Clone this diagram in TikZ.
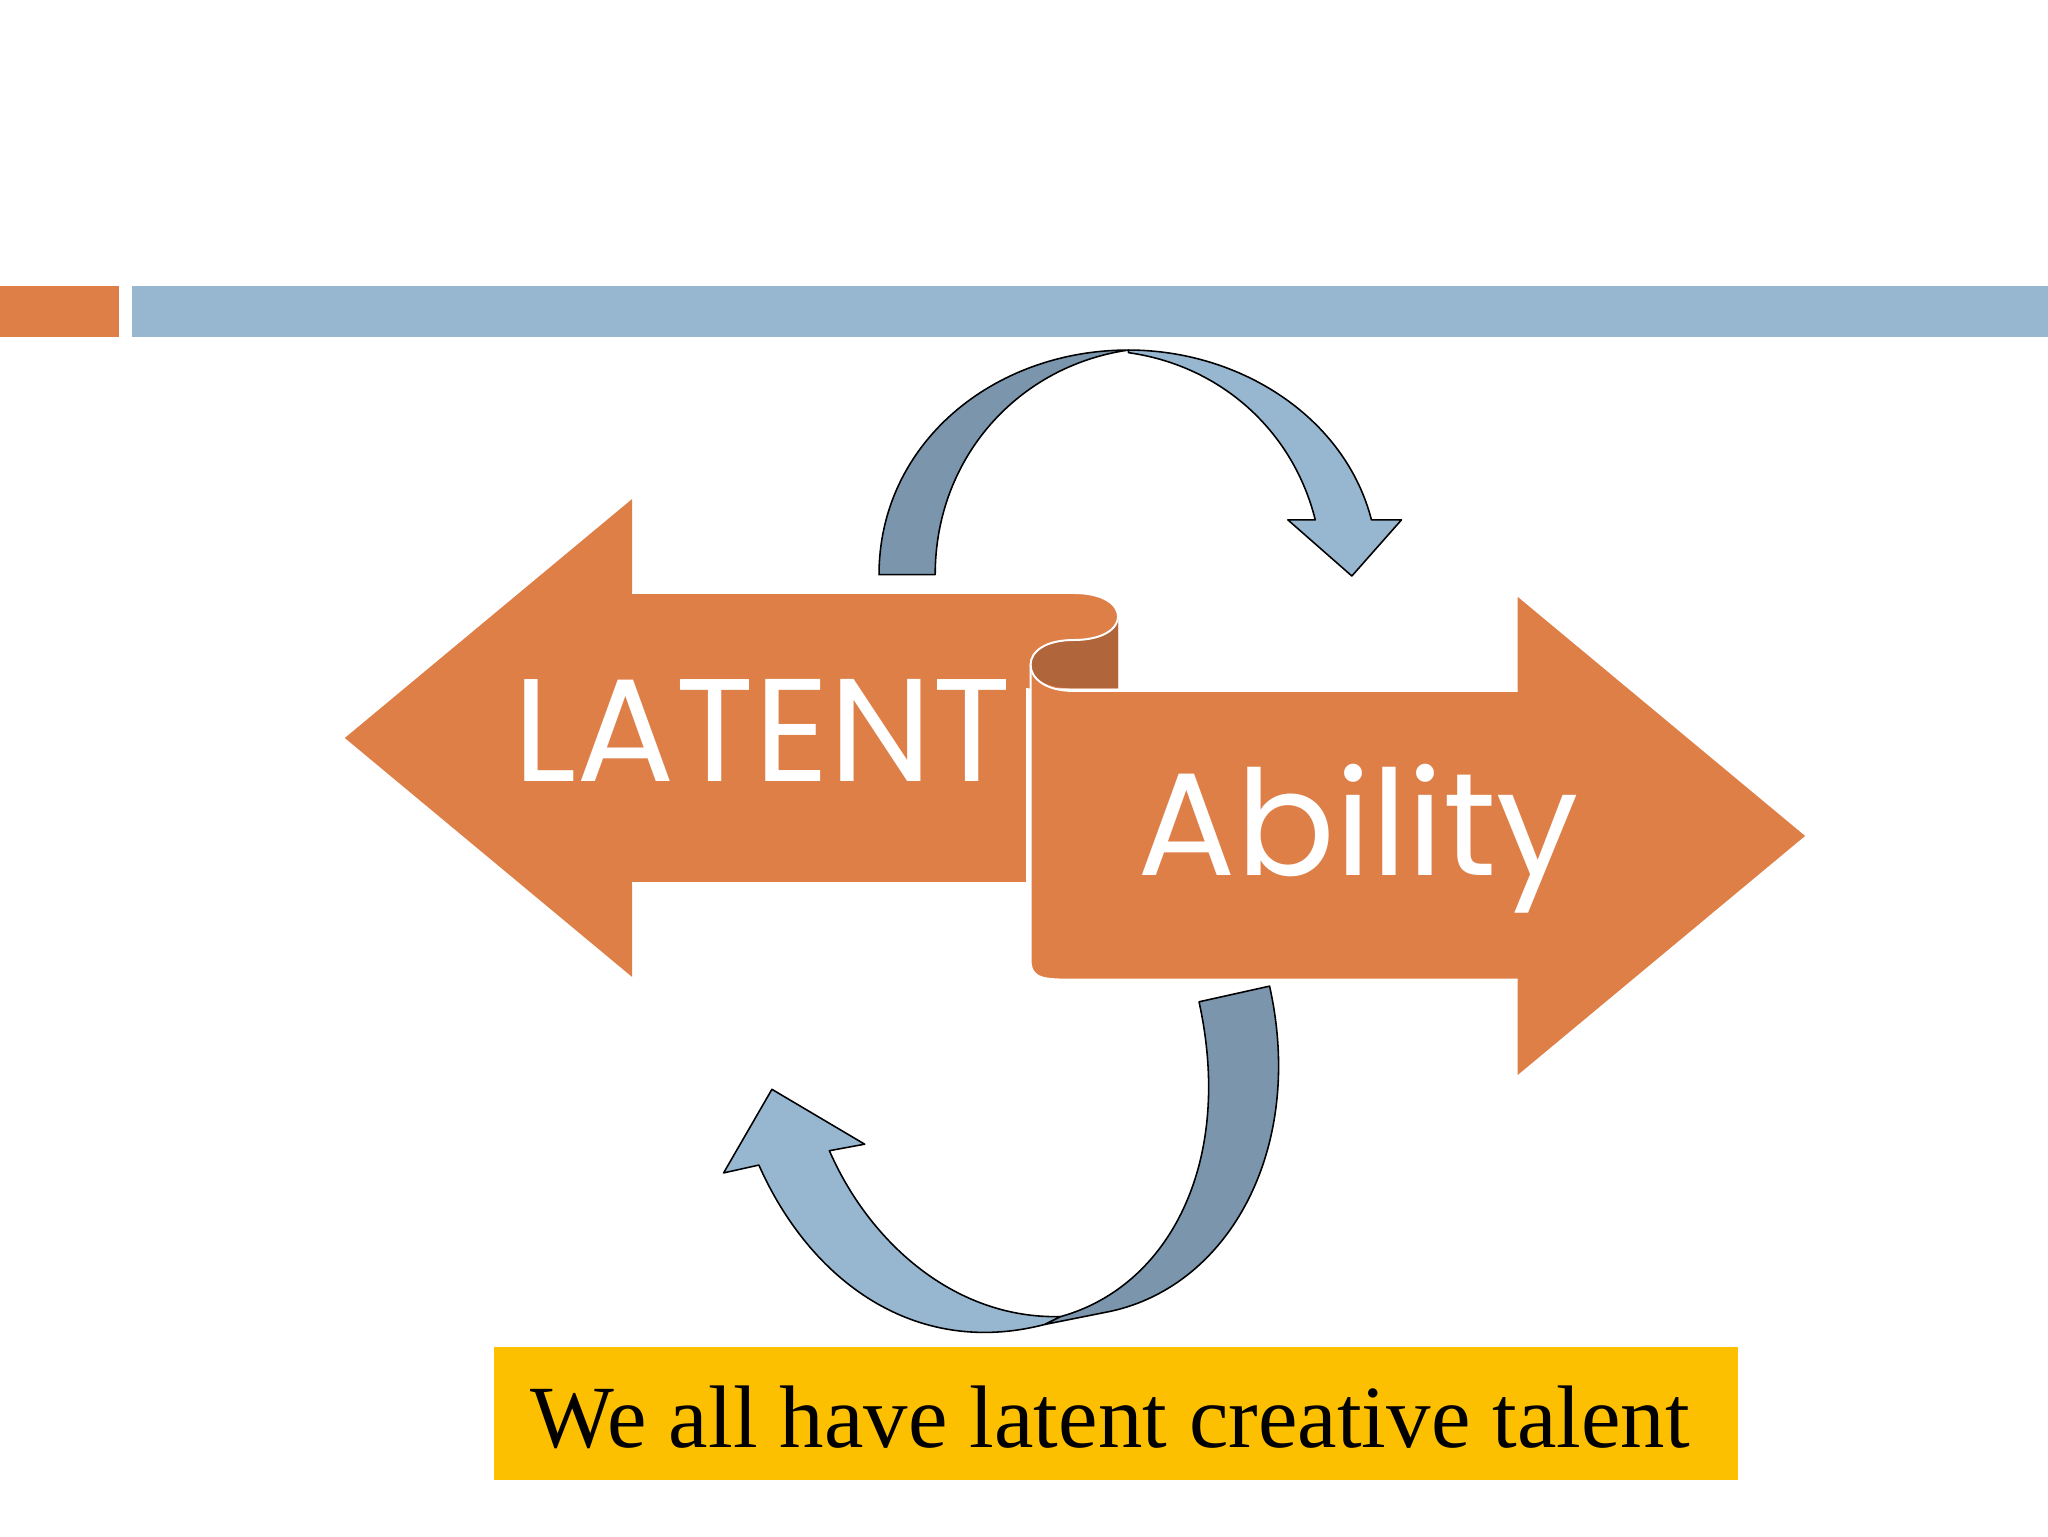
\documentclass[tikz,border=0pt]{standalone}
\usepackage{fontspec}
\setmainfont{Liberation Serif}
\newfontfamily\geo{Poppins}
\definecolor{org}{HTML}{DE7F48}
\definecolor{orgdk}{HTML}{B0653A}
\definecolor{lblue}{HTML}{97B6D0}
\definecolor{dblue}{HTML}{7A95AC}
\definecolor{ylw}{HTML}{FDC000}
\tikzset{band/.style={draw=black,line width=1.2pt,line join=round},
 big/.style={text=white,font=\geo\fontsize{112}{112}\selectfont,anchor=base,inner sep=0pt}}
\begin{document}
\begin{tikzpicture}[x=1pt,y=-1pt]
\useasboundingbox[fill=white] (0,0) rectangle (1568,1176);
\fill[org] (0,219) rectangle (91,258);
\fill[lblue] (101,219) rectangle (1568,258);
% left arrow
\fill[org] (264,565)--(484,382)--(484,454)--(822,454) .. controls (845,454) and (856,463) .. (856,472) -- (856,527) -- (786,527) -- (786,676) -- (484,676) -- (484,748) -- cycle;
% roll
\fill[orgdk] (789,509) .. controls (789,499) and (800,490) .. (822,490) .. controls (845,490) and (856,481) .. (856,472) -- (856,527) -- (822,527) .. controls (800,527) and (789,519) .. (789,509);
% right arrow
\fill[org] (789,509) -- (789,735) .. controls (789,750) and (800,750) .. (822,750) -- (1162,750) -- (1162,823) -- (1382,640) -- (1162,457) -- (1162,529) -- (822,529) .. controls (800,529) and (789,519) .. (789,509);
\draw[white,line width=1.5pt] (484,454)--(822,454) .. controls (845,454) and (856,463) .. (856,472) .. controls (856,481) and (845,490) .. (822,490) .. controls (800,490) and (789,499) .. (789,509) .. controls (789,519) and (800,529) .. (822,529) -- (1162,529);
\draw[white,line width=1.5pt] (789,509) -- (789,735) .. controls (789,750) and (800,750) .. (822,750) -- (1162,750);
\draw[white,line width=1.5pt] (786,527) -- (786,676) -- (484,676);
\node[big] (lat) at (584,598) {LATENT};
\node[big] (abi) at (1040,670) {Ability};
% top curved arrow
\draw[band,fill=lblue] (864,268) .. controls (950,268) and (1030,320) .. (1050,398) -- (1073,398) -- (1035,441) -- (986,398) -- (1007,398) .. controls (990,330) and (935,280) .. (864,270) -- cycle;
\draw[band,fill=dblue] (673,440) .. controls (673,340) and (760,268) .. (864,268) .. controls (780,280) and (716,350) .. (716,440) -- cycle;
% bottom curved arrow
\draw[band,fill=lblue] (812,1008) .. controls (730,1010) and (665,950) .. (635,881) -- (662,876) -- (591,834) -- (554,898) -- (581,892) .. controls (620,980) and (700,1040) .. (800,1014) -- cycle;
\draw[band,fill=dblue] (918,767) .. controls (945,890) and (895,985) .. (812,1008) -- (800,1014) -- (845,1005) .. controls (940,988) and (1000,880) .. (972,755) -- cycle;
% caption
\fill[ylw] (378,1031) rectangle (1331,1133);
\node[anchor=base,inner sep=0pt,font=\fontsize{68}{68}\selectfont] (cap) at (850,1108) {We all have latent creative talent};
\end{tikzpicture}
\end{document}
